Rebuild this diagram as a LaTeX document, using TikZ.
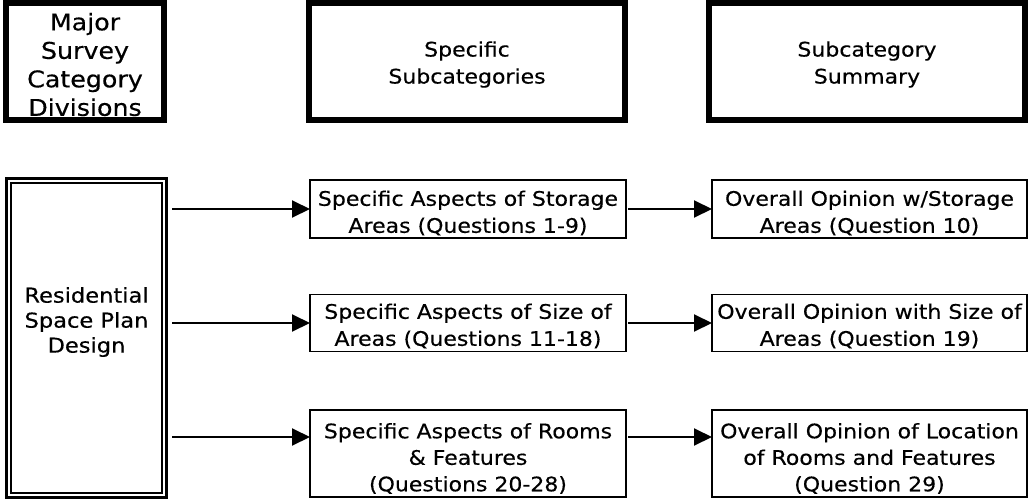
\documentclass[tikz,border=0pt]{standalone}
\usepackage{fontspec}
\setmainfont{DejaVu Sans}[FakeStretch=1.1, FakeBold=0.4]
\usetikzlibrary{arrows.meta}
\begin{document}
\begin{tikzpicture}[x=1pt,y=-1pt,
  headbox/.style={draw, line width=6pt, outer sep=0pt, inner sep=0pt},
  thinbox/.style={draw, line width=1.5pt, outer sep=0pt, inner sep=0pt, minimum width=316pt},
  txt/.style={inner sep=0pt, align=center, font=\fontsize{20}{27}\selectfont},
  arr/.style={line width=2pt, -{Triangle[length=18pt,width=17pt]}}]
\useasboundingbox (0,0) rectangle (1029,501);
% header boxes
\node[headbox, minimum width=158pt, minimum height=117pt] (h1) at (85,61.5) {};
\node[headbox, minimum width=316pt, minimum height=117pt] (h2) at (467,61.5) {};
\node[headbox, minimum width=316pt, minimum height=117pt] (h3) at (867,61.5) {};
\node[txt, font=\fontsize{23}{28.5}\selectfont] (h1t) at ([yshift=-3pt]h1.center) {Major\\Survey\\Category\\Divisions};
\node[txt] (h2t) at ([yshift=-3pt]h2.center) {Specific\\Subcategories};
\node[txt] (h3t) at ([yshift=-3pt]h3.center) {Subcategory\\Summary};
% left double box
\node[draw, line width=3pt, outer sep=0pt, inner sep=0pt, minimum width=160pt,
  minimum height=319pt] (L) at (86.5,338) {};
\draw[line width=2pt] ([shift={(4.5,4.5)}]L.north west) rectangle ([shift={(-4.5,-4.5)}]L.south east);
\node[txt, font=\fontsize{20.5}{25}\selectfont] (Lt) at ([yshift=16pt]L.center) {Residential\\Space Plan\\Design};
% middle boxes
\node[thinbox, minimum height=58pt] (m1) at (468,209) {};
\node[thinbox, minimum height=57pt] (m2) at (468,323) {};
\node[thinbox, minimum height=87pt] (m3) at (468,453.5) {};
\node[txt] (m1t) at ([yshift=-4pt]m1.center) {Specific Aspects of Storage\\Areas (Questions 1-9)};
\node[txt] (m2t) at ([yshift=-3pt]m2.center) {Specific Aspects of Size of\\Areas (Questions 11-18)};
\node[txt, font=\fontsize{20}{26.5}\selectfont] (m3t) at ([yshift=-5pt]m3.center) {Specific Aspects of Rooms\\\& Features\\(Questions 20-28)};
% right boxes
\node[thinbox, minimum width=315pt, minimum height=58pt] (r1) at (869.5,209) {};
\node[thinbox, minimum width=315pt, minimum height=57pt] (r2) at (869.5,323) {};
\node[thinbox, minimum width=315pt, minimum height=87pt] (r3) at (869.5,453.5) {};
\node[txt] (r1t) at ([yshift=-4pt]r1.center) {Overall Opinion w/Storage\\Areas (Question 10)};
\node[txt] (r2t) at ([yshift=-3pt]r2.center) {Overall Opinion with Size of\\Areas (Question 19)};
\node[txt, font=\fontsize{20}{26.5}\selectfont] (r3t) at ([yshift=-5pt]r3.center) {Overall Opinion of Location\\of Rooms and Features\\(Question 29)};
\coordinate (a3) at (0,437);
% arrows
\draw[arr, shorten <=5.5pt] (L.east |- m1) -- (m1.west);
\draw[arr, shorten <=5.5pt] (L.east |- m2) -- (m2.west);
\draw[arr, shorten <=5.5pt] (L.east |- a3) -- (m3.west |- a3);
\draw[arr, shorten <=2pt] (m1.east) -- (r1.west);
\draw[arr, shorten <=2pt] (m2.east) -- (r2.west);
\draw[arr, shorten <=2pt] (m3.east |- a3) -- (r3.west |- a3);
\end{tikzpicture}
\end{document}
